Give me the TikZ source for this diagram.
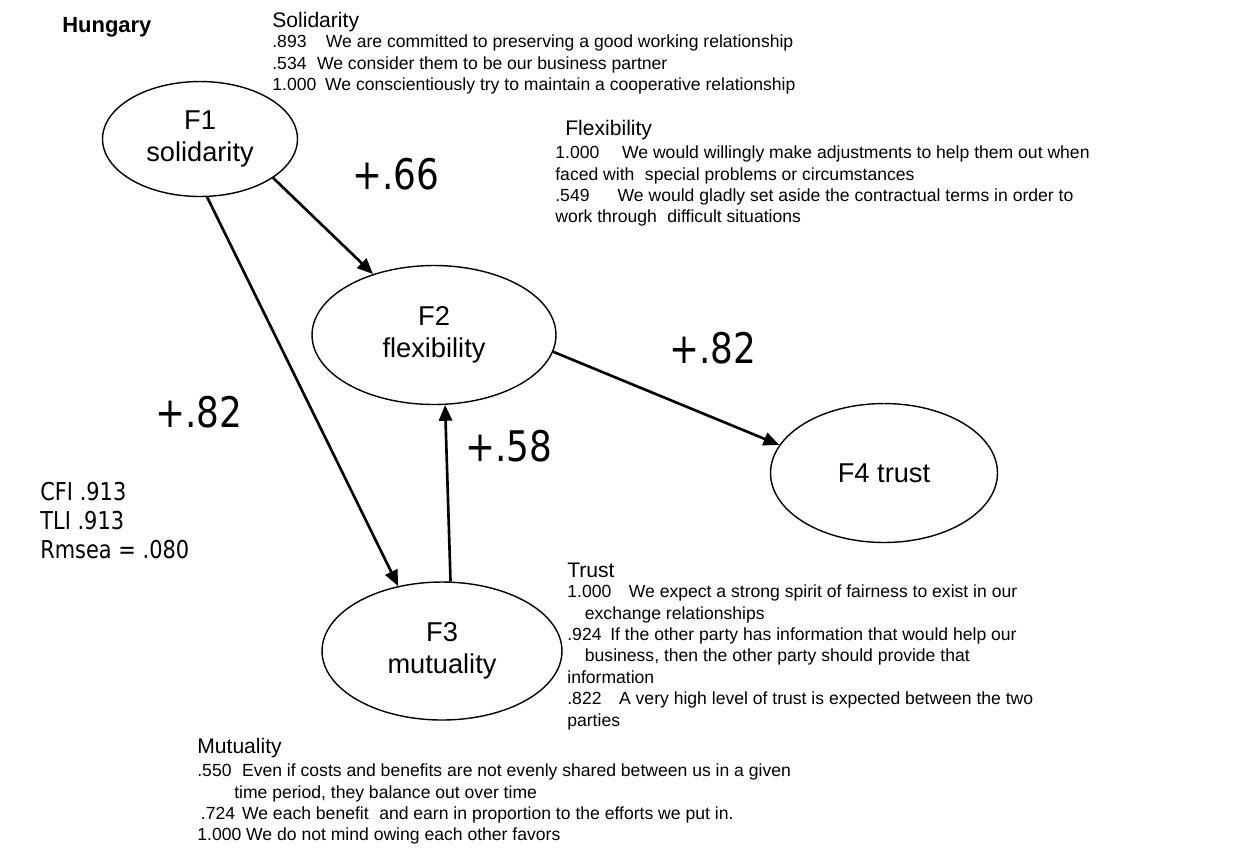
\documentclass[tikz,border=0pt]{standalone}
\usepackage{fontspec}
\setmainfont{Liberation Sans}
\newfontfamily\tahfont[FakeStretch=0.85]{DejaVu Sans}
\usepackage{tikz}
\usetikzlibrary{shapes.geometric}
\usetikzlibrary{arrows.meta}

\begin{document}
\begin{tikzpicture}[x=0.02cm, y=-0.02cm,
    factor/.style={ellipse, draw, line width=0.8pt, inner sep=0pt, align=center,
        font=\fontsize{15.5}{18}\selectfont},
    link/.style={line width=1.5pt, -{Triangle[length=9pt, width=7.5pt]}},
    coef/.style={inner sep=0pt, font=\tahfont\fontsize{24}{28}\selectfont},
    head/.style={anchor=west, inner sep=0pt, font=\fontsize{12}{14}\selectfont},
    items/.style={anchor=north west, inner sep=0pt, align=left,
        font=\fontsize{10}{12.2}\selectfont}]
            \useasboundingbox (0,0) rectangle (1250,867);

            % Draw the four factors
            \node[factor, minimum width=3.9cm, minimum height=2.3cm] (F1) at (200,139) {F1\\solidarity};
            \node[factor, minimum width=4.88cm, minimum height=2.78cm] (F2) at (434,335) {F2\\flexibility};
            \node[factor, minimum width=4.8cm, minimum height=2.76cm] (F3) at (442,651) {F3\\mutuality};
            \node[factor, minimum width=4.54cm, minimum height=2.78cm] (F4) at (884,473) {F4 trust};

            % Draw the paths between factors
            \draw[link] (F1.-28) -- (F2.135);
            \draw[link] (F1.-83) -- (F3.124);
            \draw[link] (F3.83) -- (F2.-81);
            \draw[link] (F2.-8) -- (F4.165);

            % Path coefficients
            \node[coef] (c12) at (396,174) {+.66};
            \node[coef] (c13) at (199,412) {+.82};
            \node[coef] (c24) at (713,348) {+.82};
            \node[coef] (c32) at (509,446) {+.58};

            % Title and fit indices
            \node[anchor=west, inner sep=0pt, font=\bfseries\fontsize{12.5}{15}\selectfont] (title) at (62,27) {Hungary};
            \node[anchor=north west, inner sep=0pt, align=left,
                font=\tahfont\fontsize{14}{16.5}\selectfont] (fit) at (40,482)
                {CFI .913\\TLI .913\\Rmsea = .080};

            % Item loadings for each factor
            \node[head] (hsol) at (272,22) {Solidarity};
            \node[items] (isol) at (272,34.5) {.893\hspace{1.1em}We are committed to preserving a good working relationship\\
                .534\hspace{0.6em}We consider them to be our business partner\\
                1.000\hspace{0.5em}We conscientiously try to maintain a cooperative relationship};

            \node[head] (hflex) at (565,130) {Flexibility};
            \node[items] (iflex) at (555,145.5) {1.000\hspace{1.3em}We would willingly make adjustments to help them out when\\
                faced with\hspace{0.6em}special problems or circumstances\\
                .549\hspace{1.6em}We would gladly set aside the contractual terms in order to\\
                work through\hspace{0.6em}difficult situations};

            \node[head] (htrust) at (567,570) {Trust};
            \node[items] (itrust) at (567,584.5) {1.000\hspace{1em}We expect a strong spirit of fairness to exist in our\\
                \hspace*{1em}exchange relationships\\
                .924\hspace{0.5em}If the other party has information that would help our\\
                \hspace*{1em}business, then the other party should provide that\\
                information\\
                .822\hspace{1em}A very high level of trust is expected between the two\\
                parties};

            \node[head] (hmut) at (197,748) {Mutuality};
            \node[items] (imut) at (197,763.5) {.550\hspace{0.6em}Even if costs and benefits are not evenly shared between us in a given\\
                \hspace*{2.1em}time period, they balance out over time\\
                \hspace*{0.2em}.724\hspace{0.4em}We each benefit\hspace{0.6em}and earn in proportion to the efforts we put in.\\
                1.000 We do not mind owing each other favors};

        \end{tikzpicture}
\end{document}
